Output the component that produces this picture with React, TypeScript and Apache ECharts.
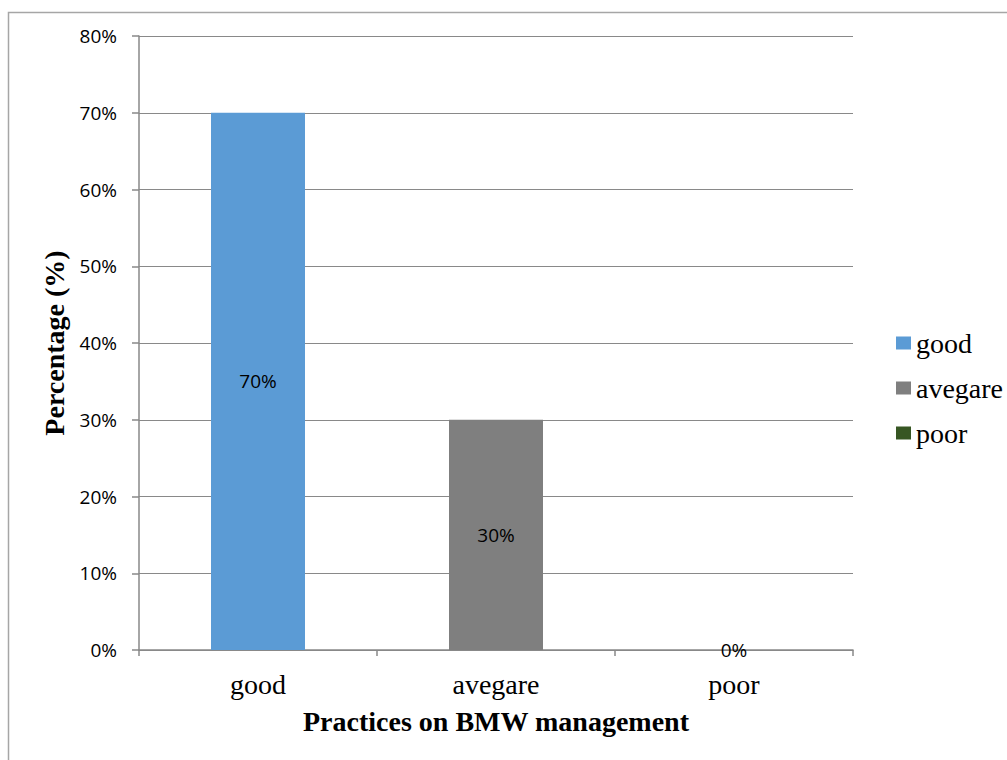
import React, { useEffect, useRef } from "react";
import * as echarts from "echarts";

const categories = ["good", "avegare", "poor"];
const seriesNames = ["good", "avegare", "poor"];
const values = [70, 30, 0];
const colors = ["#5b9bd5", "#7f7f7f", "#375623"];
const yTicks = [0, 10, 20, 30, 40, 50, 60, 70, 80];

export default function App() {
  const ref = useRef<HTMLDivElement>(null);
  useEffect(() => {
    const chart = echarts.init(ref.current!, null, { renderer: "svg" });
    const series = seriesNames.map((name, i) => ({
      name,
      type: "bar",
      stack: "all",
      barWidth: 94,
      data: categories.map((_, j) => (j === i ? values[i] : "-")),
      itemStyle: { color: colors[i] },
      label: {
        show: true,
        position: "inside",
        formatter: (p: any) => "{v|" + p.value + "%}",
        rich: { v: { color: "#000", fontFamily: "Open Sans", fontSize: 19 } },
      },
    }));
    chart.setOption({
      animation: false,
      backgroundColor: "#fff",
      textStyle: { fontFamily: "Liberation Serif" },
      grid: { left: 139, top: 36, width: 714, height: 614, containLabel: false },
      graphic: [
        {
          type: "rect",
          shape: { x: 8.5, y: 12.5, width: 1200, height: 900 },
          style: { fill: "none", stroke: "#a6a6a6", lineWidth: 1.5 },
          silent: true,
        },
      ],
      legend: {
        orient: "vertical",
        left: 891,
        top: 324,
        itemWidth: 15,
        itemHeight: 13,
        itemGap: 17,
        icon: "rect",
        itemStyle: { borderWidth: 0 },
        textStyle: { fontFamily: "Liberation Serif", fontSize: 28, color: "#000" },
        data: seriesNames,
      },
      xAxis: {
        type: "category",
        data: categories,
        name: "Practices on BMW management",
        nameLocation: "middle",
        nameGap: 57,
        nameTextStyle: { fontFamily: "Liberation Serif", fontSize: 28, fontWeight: "bold", color: "#000" },
        axisLine: { lineStyle: { color: "#898989", width: 1.5 } },
        axisTick: { show: true, length: 6, lineStyle: { color: "#898989", width: 1.5 } },
        axisLabel: { fontFamily: "Liberation Serif", fontSize: 28, color: "#000", margin: 20 },
      },
      yAxis: {
        type: "value",
        min: yTicks[0],
        max: yTicks[yTicks.length - 1],
        interval: 10,
        name: "Percentage (%)",
        nameLocation: "middle",
        nameGap: 70,
        nameTextStyle: { fontFamily: "Liberation Serif", fontSize: 28, fontWeight: "bold", color: "#000" },
        axisLine: { show: true, lineStyle: { color: "#898989", width: 1.5 } },
        axisTick: { show: true, length: 7, lineStyle: { color: "#898989", width: 1.5 } },
        splitLine: { lineStyle: { color: "#898989", width: 1.2 } },
        axisLabel: {
          formatter: (v: number) => v + "%",
          fontFamily: "Open Sans",
          fontSize: 19,
          color: "#000",
          margin: 22,
        },
      },
      series,
    });
    return () => chart.dispose();
  }, []);
  return (
    <div
      ref={ref}
      style={{ position: "fixed", left: 0, top: 0, width: 1007, height: 760 }}
    />
  );
}
